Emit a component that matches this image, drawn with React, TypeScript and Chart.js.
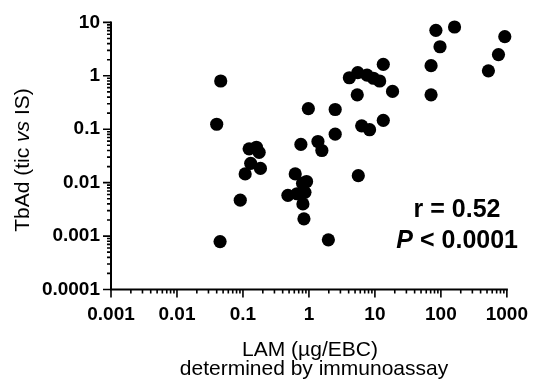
import React, { useEffect, useRef } from 'react';
import { Chart, registerables } from 'chart.js';

Chart.register(...registerables);

// ---- data ----
const lamValues = [
  0.046, 0.040, 0.16, 0.124, 0.176, 0.131, 0.184, 0.108, 0.091, 0.045,
  84, 161, 930, 97, 746, 71, 525, 71,
  13.4, 5.5, 4.1, 7.6, 9.5, 11.8, 18.5, 5.4,
  0.98, 2.5, 2.5, 6.3, 8.3, 13.4, 0.755, 1.37, 1.57,
  0.62, 0.92, 0.8, 5.6, 0.48, 0.66, 0.87, 0.81, 0.84, 1.97,
];
const tbadValues = [
  0.80, 0.124, 0.046, 0.043, 0.037, 0.023, 0.0185, 0.0146, 0.0047, 0.00079,
  7.1, 8.2, 5.4, 3.5, 2.5, 1.55, 1.24, 0.44,
  1.64, 1.15, 0.92, 1.03, 0.9, 0.8, 0.51, 0.44,
  0.244, 0.234, 0.081, 0.116, 0.098, 0.147, 0.052, 0.059, 0.04,
  0.0146, 0.0105, 0.0097, 0.0135, 0.0058, 0.0062, 0.0066, 0.004, 0.0021, 0.00085,
];
const xTickValues = [0.001, 0.01, 0.1, 1, 10, 100, 1000];
const xTickLabels = ['0.001', '0.01', '0.1', '1', '10', '100', '1000'];
const yTickValues = [0.0001, 0.001, 0.01, 0.1, 1, 10];
const yTickLabels = ['0.0001', '0.001', '0.01', '0.1', '1', '10'];
const xTitleLines = ['LAM (µg/EBC)', 'determined by immunoassay'];
const yTitleParts = [
  { text: 'TbAd (tic ', italic: false },
  { text: 'vs', italic: true },
  { text: ' IS)', italic: false },
];
const statR = 'r = 0.52';
const statPParts = [
  { text: 'P', italic: true },
  { text: ' < 0.0001', italic: false },
];

const FONT = "'Liberation Sans', Arial, Helvetica, sans-serif";

function minorValues(majors: number[]): { v: number; major: boolean }[] {
  const out: { v: number; major: boolean }[] = [];
  for (let i = 0; i < majors.length; i++) {
    out.push({ v: majors[i], major: true });
    if (i < majors.length - 1) {
      for (let k = 2; k <= 9; k++) out.push({ v: majors[i] * k, major: false });
    }
  }
  return out;
}

const prismPlugin = {
  id: 'prismAxes',
  afterDraw(chart: any) {
    const { ctx, chartArea } = chart;
    const { left, right, top, bottom } = chartArea;
    const xs = chart.scales.x;
    const ys = chart.scales.y;
    ctx.save();
    ctx.strokeStyle = '#000';
    ctx.fillStyle = '#000';
    ctx.lineWidth = 2;
    ctx.lineCap = 'butt';
    // axis lines
    ctx.beginPath();
    ctx.moveTo(left, top - 1);
    ctx.lineTo(left, bottom + 1);
    ctx.moveTo(left - 1, bottom);
    ctx.lineTo(right + 1, bottom);
    ctx.stroke();
    // ticks
    ctx.lineWidth = 1.6;
    ctx.beginPath();
    for (const t of minorValues(xTickValues)) {
      const px = xs.getPixelForValue(t.v);
      const len = t.major ? 8 : 4;
      ctx.moveTo(px, bottom);
      ctx.lineTo(px, bottom + len);
    }
    for (const t of minorValues(yTickValues)) {
      const py = ys.getPixelForValue(t.v);
      const len = t.major ? 8 : 4;
      ctx.moveTo(left, py);
      ctx.lineTo(left - len, py);
    }
    ctx.stroke();

    // x title
    ctx.font = `21px ${FONT}`;
    ctx.textAlign = 'center';
    ctx.textBaseline = 'alphabetic';
    ctx.fillText(xTitleLines[0], 310, 355.5);
    ctx.fillText(xTitleLines[1], 314, 375);

    // y title (rotated, mixed italic)
    ctx.save();
    ctx.translate(29, 160);
    ctx.rotate(-Math.PI / 2);
    ctx.textAlign = 'left';
    const fontOf = (it: boolean) => `${it ? 'italic ' : ''}21px ${FONT}`;
    let total = 0;
    for (const p of yTitleParts) {
      ctx.font = fontOf(p.italic);
      total += ctx.measureText(p.text).width;
    }
    let cx = -total / 2;
    for (const p of yTitleParts) {
      ctx.font = fontOf(p.italic);
      ctx.fillText(p.text, cx, 0);
      cx += ctx.measureText(p.text).width;
    }
    ctx.restore();

    // statistics annotation
    ctx.font = `bold 25px ${FONT}`;
    ctx.textAlign = 'center';
    ctx.fillText(statR, 457, 217);
    ctx.textAlign = 'left';
    const bfont = (it: boolean) => `${it ? 'italic ' : ''}bold 25px ${FONT}`;
    let tw = 0;
    for (const p of statPParts) {
      ctx.font = bfont(p.italic);
      tw += ctx.measureText(p.text).width;
    }
    let sx = 518 - tw;
    for (const p of statPParts) {
      ctx.font = bfont(p.italic);
      ctx.fillText(p.text, sx, 248);
      sx += ctx.measureText(p.text).width;
    }
    ctx.restore();
  },
};

export default function App() {
  const canvasRef = useRef<HTMLCanvasElement | null>(null);

  useEffect(() => {
    const canvas = canvasRef.current;
    if (!canvas) return;
    const points = lamValues.map((v, i) => ({ x: v, y: tbadValues[i] }));
    const chart = new Chart(canvas, {
      type: 'scatter',
      data: {
        datasets: [
          {
            data: points,
            backgroundColor: '#000',
            borderColor: '#000',
            borderWidth: 0,
            pointRadius: 6.6,
            pointHoverRadius: 6.6,
          },
        ],
      },
      options: {
        responsive: false,
        animation: false,
        devicePixelRatio: 1,
        clip: false,
        layout: { padding: { top: 18, right: 24, left: 0, bottom: 0 } },
        plugins: {
          legend: { display: false },
          tooltip: { enabled: false },
          title: { display: false },
        },
        scales: {
          x: {
            type: 'logarithmic',
            min: 0.001,
            max: 1000,
            afterBuildTicks: (scale: any) => {
              scale.ticks = xTickValues.map((v) => ({ value: v }));
            },
            afterFit: (scale: any) => {
              scale.height = 98.5;
            },
            grid: { display: false, drawTicks: false },
            border: { display: false },
            ticks: {
              autoSkip: false,
              maxRotation: 0,
              minRotation: 0,
              padding: 14,
              color: '#000',
              font: { family: FONT, size: 19, weight: 'bold' },
              callback: (value: any) => {
                const i = xTickValues.indexOf(Number(value));
                return i >= 0 ? xTickLabels[i] : '';
              },
            },
          },
          y: {
            type: 'logarithmic',
            min: 0.0001,
            max: 10,
            afterBuildTicks: (scale: any) => {
              scale.ticks = yTickValues.map((v) => ({ value: v }));
            },
            afterFit: (scale: any) => {
              scale.width = 111;
            },
            grid: { display: false, drawTicks: false },
            border: { display: false },
            ticks: {
              autoSkip: false,
              padding: 11,
              color: '#000',
              font: { family: FONT, size: 19, weight: 'bold' },
              callback: (value: any) => {
                const i = yTickValues.indexOf(Number(value));
                return i >= 0 ? yTickLabels[i] : '';
              },
            },
          },
        },
      },
      plugins: [prismPlugin],
    });
    return () => chart.destroy();
  }, []);

  return (
    <div style={{ position: 'fixed', left: 0, top: 0, width: 542, height: 388, background: '#fff' }}>
      <canvas ref={canvasRef} width={542} height={388} style={{ display: 'block' }} />
    </div>
  );
}
